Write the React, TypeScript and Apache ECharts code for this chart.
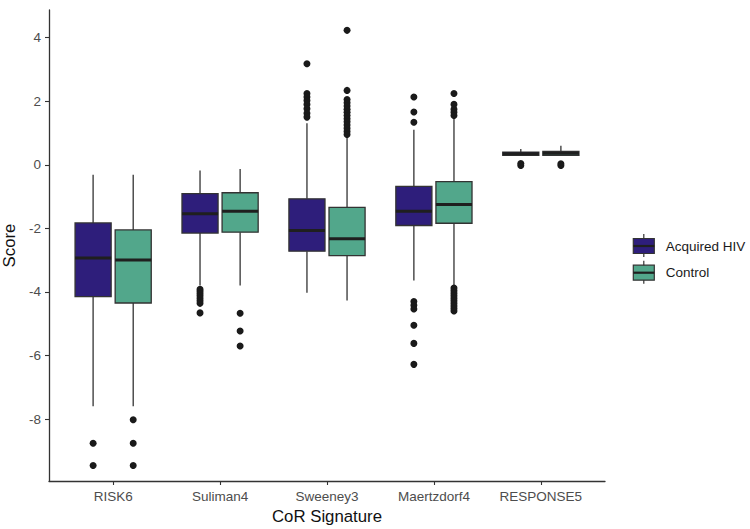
import React, { useEffect, useRef } from "react";
import * as echarts from "echarts";

const categories = ["RISK6", "Suliman4", "Sweeney3", "Maertzdorf4", "RESPONSE5"];
const groupNames = ["Acquired HIV", "Control"];

// [min whisker, Q1, median, Q3, max whisker] per category
const acquiredBoxes = [
  [-7.6, -4.15, -2.93, -1.83, -0.31],
  [-3.8, -2.15, -1.54, -0.91, -0.18],
  [-4.03, -2.72, -2.07, -1.07, 1.31],
  [-3.64, -1.91, -1.46, -0.68, 1.1],
  [0.29, 0.3, 0.35, 0.4, 0.5],
];
const controlBoxes = [
  [-7.6, -4.35, -3.0, -2.05, -0.31],
  [-3.8, -2.12, -1.46, -0.88, -0.13],
  [-4.27, -2.86, -2.33, -1.34, 0.86],
  [-3.8, -1.84, -1.25, -0.53, 1.45],
  [0.3, 0.3, 0.36, 0.42, 0.6],
];

// [category index, value]
const acquiredOutliers = [
  [0, -8.76], [0, -9.46],
  [1, -3.92], [1, -3.98], [1, -4.05], [1, -4.12], [1, -4.2], [1, -4.28], [1, -4.36], [1, -4.66],
  [2, 3.18], [2, 2.24], [2, 2.13], [2, 2.02], [2, 1.9], [2, 1.76], [2, 1.62], [2, 1.5],
  [3, 2.13], [3, 1.66], [3, 1.34], [3, -4.3], [3, -4.42], [3, -4.54], [3, -5.05], [3, -5.62], [3, -6.28],
  [4, -0.02], [4, 0.04],
];
const controlOutliers = [
  [0, -8.02], [0, -8.76], [0, -9.46],
  [1, -4.67], [1, -5.23], [1, -5.7],
  [2, 4.23], [2, 2.34], [2, 2.05], [2, 1.95], [2, 1.85], [2, 1.75], [2, 1.65], [2, 1.55],
  [2, 1.45], [2, 1.35], [2, 1.25], [2, 1.15], [2, 1.05], [2, 0.95],
  [3, 2.24], [3, 1.9], [3, 1.75], [3, 1.65], [3, 1.55],
  [3, -3.88], [3, -3.96], [3, -4.04], [3, -4.12], [3, -4.2], [3, -4.28], [3, -4.36], [3, -4.44],
  [3, -4.52], [3, -4.6],
  [4, -0.02], [4, 0.03],
];

const yTicks = [-8, -6, -4, -2, 0, 2, 4];
const xTicks = [0, 1, 2, 3, 4];

const FONT = '"Liberation Sans", Arial, Helvetica, sans-serif';
const COLORS = ["#2e1e7b", "#52a78b"];
const EDGE = "#333333";
const DODGE = 0.1875;
const BOX_W = 0.3375;

function makeRender(offset: number, fill: string) {
  return (params: any, api: any) => {
    const x = api.value(0) + offset;
    const pMin = api.coord([x, api.value(1)]);
    const pQ1 = api.coord([x, api.value(2)]);
    const pMed = api.coord([x, api.value(3)]);
    const pQ3 = api.coord([x, api.value(4)]);
    const pMax = api.coord([x, api.value(5)]);
    const w = api.size([BOX_W, 0])[0];
    const cx = pMed[0];
    return {
      type: "group",
      children: [
        { type: "line", shape: { x1: cx, y1: pMax[1], x2: cx, y2: pQ3[1] }, style: { stroke: EDGE, lineWidth: 1.3 } },
        { type: "line", shape: { x1: cx, y1: pQ1[1], x2: cx, y2: pMin[1] }, style: { stroke: EDGE, lineWidth: 1.3 } },
        {
          type: "rect",
          shape: { x: cx - w / 2, y: pQ3[1], width: w, height: Math.max(pQ1[1] - pQ3[1], 1) },
          style: { fill, stroke: EDGE, lineWidth: 1.3 },
        },
        { type: "line", shape: { x1: cx - w / 2, y1: pMed[1], x2: cx + w / 2, y2: pMed[1] }, style: { stroke: "#1f1f1f", lineWidth: 3 } },
      ],
    };
  };
}

function legendItems() {
  const items: any[] = [];
  groupNames.forEach((name, i) => {
    const y0 = 246 + i * 26.7;
    items.push(
      { type: "line", shape: { x1: 643.8, y1: y0 - 12, x2: 643.8, y2: y0 + 11 }, style: { stroke: EDGE, lineWidth: 1.2 } },
      { type: "rect", shape: { x: 633.3, y: y0 - 7.5, width: 21, height: 15 }, style: { fill: COLORS[i], stroke: EDGE, lineWidth: 1.2 } },
      { type: "line", shape: { x1: 633.3, y1: y0, x2: 654.3, y2: y0 }, style: { stroke: "#1f1f1f", lineWidth: 2.2 } },
      {
        type: "text",
        x: 665.7,
        y: y0,
        style: { text: name, font: `13.5px ${FONT}`, fill: "#1a1a1a", textVerticalAlign: "middle", textAlign: "left" },
      }
    );
  });
  return items;
}

export default function App() {
  const ref = useRef<HTMLDivElement>(null);
  useEffect(() => {
    if (!ref.current) return;
    const chart = echarts.init(ref.current, undefined, { renderer: "svg" });
    const boxSeries = [acquiredBoxes, controlBoxes].map((boxes, gi) => ({
      type: "custom",
      name: groupNames[gi],
      renderItem: makeRender(gi === 0 ? -DODGE : DODGE, COLORS[gi]),
      encode: { x: 0, y: [1, 2, 3, 4, 5] },
      data: boxes.map((b, ci) => [ci, ...b]),
      z: 2,
    }));
    const outlierSeries = [acquiredOutliers, controlOutliers].map((pts, gi) => ({
      type: "scatter",
      name: groupNames[gi] + " outliers",
      symbol: "circle",
      symbolSize: 7,
      itemStyle: { color: "#1a1a1a", opacity: 1 },
      data: pts.map(([c, v]) => [c + (gi === 0 ? -DODGE : DODGE), v]),
      z: 3,
    }));
    chart.setOption({
      animation: false,
      backgroundColor: "#ffffff",
      textStyle: { fontFamily: FONT },
      grid: { left: 49, right: 145, top: 10, bottom: 48, containLabel: false, outerBoundsMode: "none" } as any,
      xAxis: {
        type: "value",
        min: -0.6,
        max: 4.6,
        splitLine: { show: false },
        axisLine: { show: true, onZero: false, lineStyle: { color: EDGE, width: 1.3 } },
        axisTick: { show: true, length: 4, lineStyle: { color: EDGE, width: 1.1 }, customValues: xTicks },
        axisLabel: {
          customValues: xTicks,
          formatter: (v: number) => categories[Math.round(v)] ?? "",
          color: "#4d4d4d",
          fontSize: 13.5,
          margin: 8,
          fontFamily: FONT,
        },
        name: "CoR Signature",
        nameLocation: "middle",
        nameGap: 26,
        nameTextStyle: { color: "#111", fontSize: 16.8, fontFamily: FONT },
      },
      yAxis: {
        type: "value",
        min: -9.95,
        max: 4.87,
        splitLine: { show: false },
        axisLine: { show: true, onZero: false, lineStyle: { color: EDGE, width: 1.3 } },
        axisTick: { show: true, length: 4, lineStyle: { color: EDGE, width: 1.1 }, customValues: yTicks },
        axisLabel: { customValues: yTicks, color: "#4d4d4d", fontSize: 13.5, margin: 8, fontFamily: FONT },
        name: "Score",
        nameLocation: "middle",
        nameRotate: 90,
        nameGap: 22,
        nameTextStyle: { color: "#111", fontSize: 16.8, fontFamily: FONT },
      },
      graphic: legendItems(),
      series: [...boxSeries, ...outlierSeries],
    } as any);
    return () => chart.dispose();
  }, []);
  return <div ref={ref} style={{ width: 750, height: 529, position: "absolute", left: 0, top: 0 }} />;
}
